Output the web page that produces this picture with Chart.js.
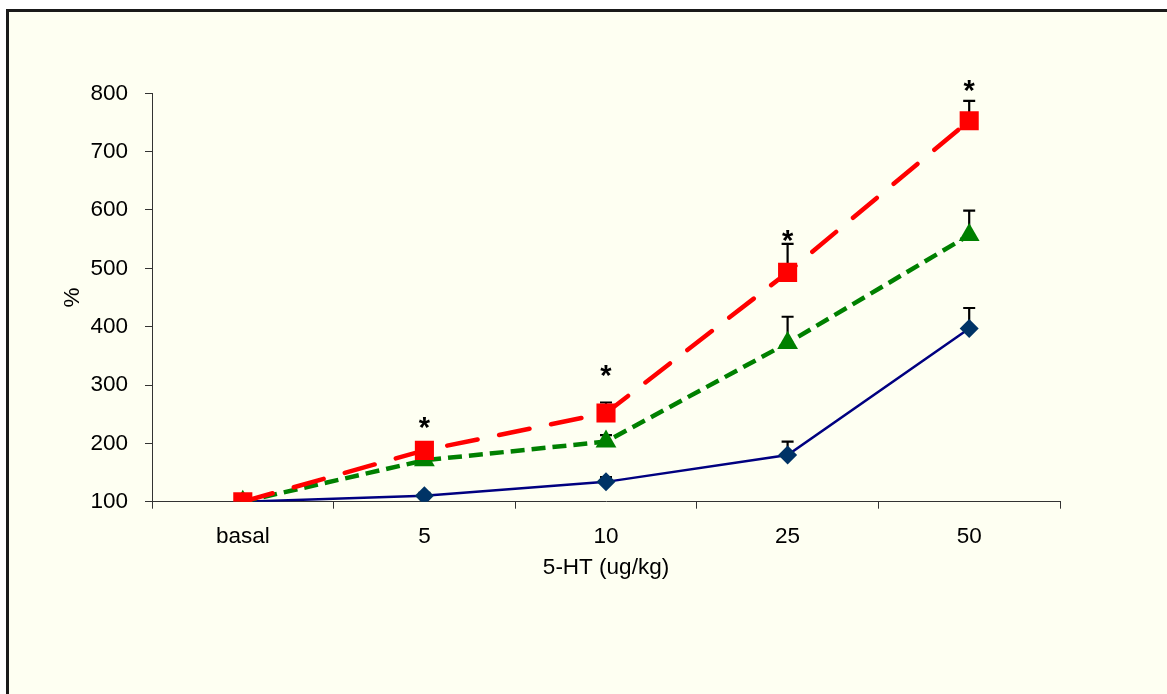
<!DOCTYPE html>
<html>
<head>
<meta charset="utf-8">
<script src="https://cdn.jsdelivr.net/npm/chart.js@4/dist/chart.umd.min.js"></script>
<style>
  body { margin: 0; background: #fff; }
  canvas { display: block; }
</style>
</head>
<body>
<canvas id="doseChart" width="1167" height="694"></canvas>
<script>
// 5-HT dose response, % of basal
const categories = ['basal', '5', '10', '25', '50'];

const blueMeans = [100, 110, 134, 180, 397];
const blueErr = [0, 5, 8, 23, 35];

const greenMeans = [100, 171, 203, 372, 557];
const greenErr = [0, 6, 11, 45, 42];

const redMeans = [100, 188, 252, 493, 753];
const redErr = [0, 8, 18, 49, 34];

// where the "*" marks sit (y value), null = none
const starLevels = [null, 236, 325, 557, 814];

const yMin = 100;
const yMax = 800;
const yStep = 100;

const fontFamily = '"Liberation Sans", Arial, sans-serif';
const fontSize = 22.5;

// panel fill and black frame
const panelFrame = {
    id: 'panelFrame',
    beforeDraw: function (chart) {
        let ctx = chart.ctx;
        ctx.save();
        ctx.fillStyle = '#ffffff';
        ctx.fillRect(0, 0, chart.width, chart.height);
        ctx.fillStyle = '#fefff2';
        ctx.fillRect(8, 11, chart.width, chart.height);
        ctx.strokeStyle = '#1a1a1a';
        ctx.lineWidth = 3;
        ctx.beginPath();
        ctx.moveTo(7.5, chart.height + 5);
        ctx.lineTo(7.5, 10.5);
        ctx.lineTo(chart.width + 5, 10.5);
        ctx.stroke();
        ctx.restore();
    }
};

// upward error bars, drawn under the markers
const errorBars = {
    id: 'errorBars',
    beforeDatasetsDraw: function (chart) {
        let ctx = chart.ctx;
        let xs = chart.scales.x;
        let ys = chart.scales.y;
        ctx.save();
        ctx.strokeStyle = '#000';
        ctx.lineWidth = 2.2;
        chart.data.datasets.forEach(function (ds) {
            ds.data.forEach(function (v, i) {
                let e = ds.errors[i];
                if (!e) return;
                let px = xs.getPixelForValue(i);
                let y0 = ys.getPixelForValue(v);
                let y1 = ys.getPixelForValue(v + e);
                ctx.beginPath();
                ctx.moveTo(px, y0);
                ctx.lineTo(px, y1);
                ctx.moveTo(px - 6, y1);
                ctx.lineTo(px + 6, y1);
                ctx.stroke();
            });
        });
        ctx.restore();
    }
};

const starMarks = {
    id: 'starMarks',
    afterDatasetsDraw: function (chart) {
        let ctx = chart.ctx;
        let xs = chart.scales.x;
        let ys = chart.scales.y;
        ctx.save();
        ctx.fillStyle = '#000';
        ctx.font = 'bold 29px ' + fontFamily;
        ctx.textAlign = 'center';
        ctx.textBaseline = 'middle';
        starLevels.forEach(function (v, i) {
            if (v === null) return;
            ctx.fillText('*', xs.getPixelForValue(i), ys.getPixelForValue(v) + 7);
        });
        ctx.restore();
    }
};

let ctx = document.getElementById('doseChart').getContext('2d');

window.doseChart = new Chart(ctx, {
    type: 'line',
    data: {
        labels: categories,
        datasets: [{
            data: redMeans,
            errors: redErr,
            borderColor: '#ff0000',
            backgroundColor: '#ff0000',
            borderWidth: 4.5,
            borderDash: [31, 22],
            borderCapStyle: 'round',
            pointStyle: 'rect',
            pointRadius: 13.5,
            pointBorderWidth: 0,
            pointBackgroundColor: '#ff0000',
            tension: 0
        }, {
            data: greenMeans,
            errors: greenErr,
            borderColor: '#008000',
            backgroundColor: '#008000',
            borderWidth: 4.5,
            borderDash: [14, 7],
            pointStyle: 'triangle',
            pointRadius: 12,
            pointBorderWidth: 0,
            pointBackgroundColor: '#008000',
            tension: 0
        }, {
            data: blueMeans,
            errors: blueErr,
            borderColor: '#000080',
            backgroundColor: '#003366',
            borderWidth: 2.5,
            pointStyle: 'rectRot',
            pointRadius: 9.5,
            pointBorderWidth: 0,
            pointBackgroundColor: '#003366',
            tension: 0
        }]
    },
    options: {
        responsive: false,
        animation: false,
        events: [],
        layout: {
            padding: { left: 0, top: 93.3, right: 107, bottom: 112.3 }
        },
        plugins: {
            legend: { display: false },
            tooltip: { enabled: false }
        },
        scales: {
            x: {
                offset: true,
                grid: {
                    offset: true,
                    drawOnChartArea: false,
                    tickLength: 7,
                    color: '#333'
                },
                border: { color: '#333', width: 1 },
                ticks: {
                    color: '#000',
                    padding: 15,
                    font: { family: fontFamily, size: fontSize }
                },
                title: {
                    display: true,
                    text: '5-HT (ug/kg)',
                    color: '#000',
                    padding: { top: 0, bottom: 0 },
                    font: { family: fontFamily, size: fontSize }
                },
                afterFit: function (scale) { scale.height = 80; }
            },
            y: {
                min: yMin,
                max: yMax,
                grid: {
                    drawOnChartArea: false,
                    tickLength: 7,
                    color: '#333'
                },
                border: { color: '#333', width: 1 },
                ticks: {
                    stepSize: yStep,
                    color: '#000',
                    padding: 17,
                    font: { family: fontFamily, size: fontSize }
                },
                title: {
                    display: true,
                    text: '%',
                    color: '#000',
                    padding: { top: 59, bottom: 0 },
                    font: { family: fontFamily, size: fontSize }
                },
                afterFit: function (scale) { scale.width = 152; }
            }
        }
    },
    plugins: [panelFrame, errorBars, starMarks]
});
</script>
</body>
</html>
